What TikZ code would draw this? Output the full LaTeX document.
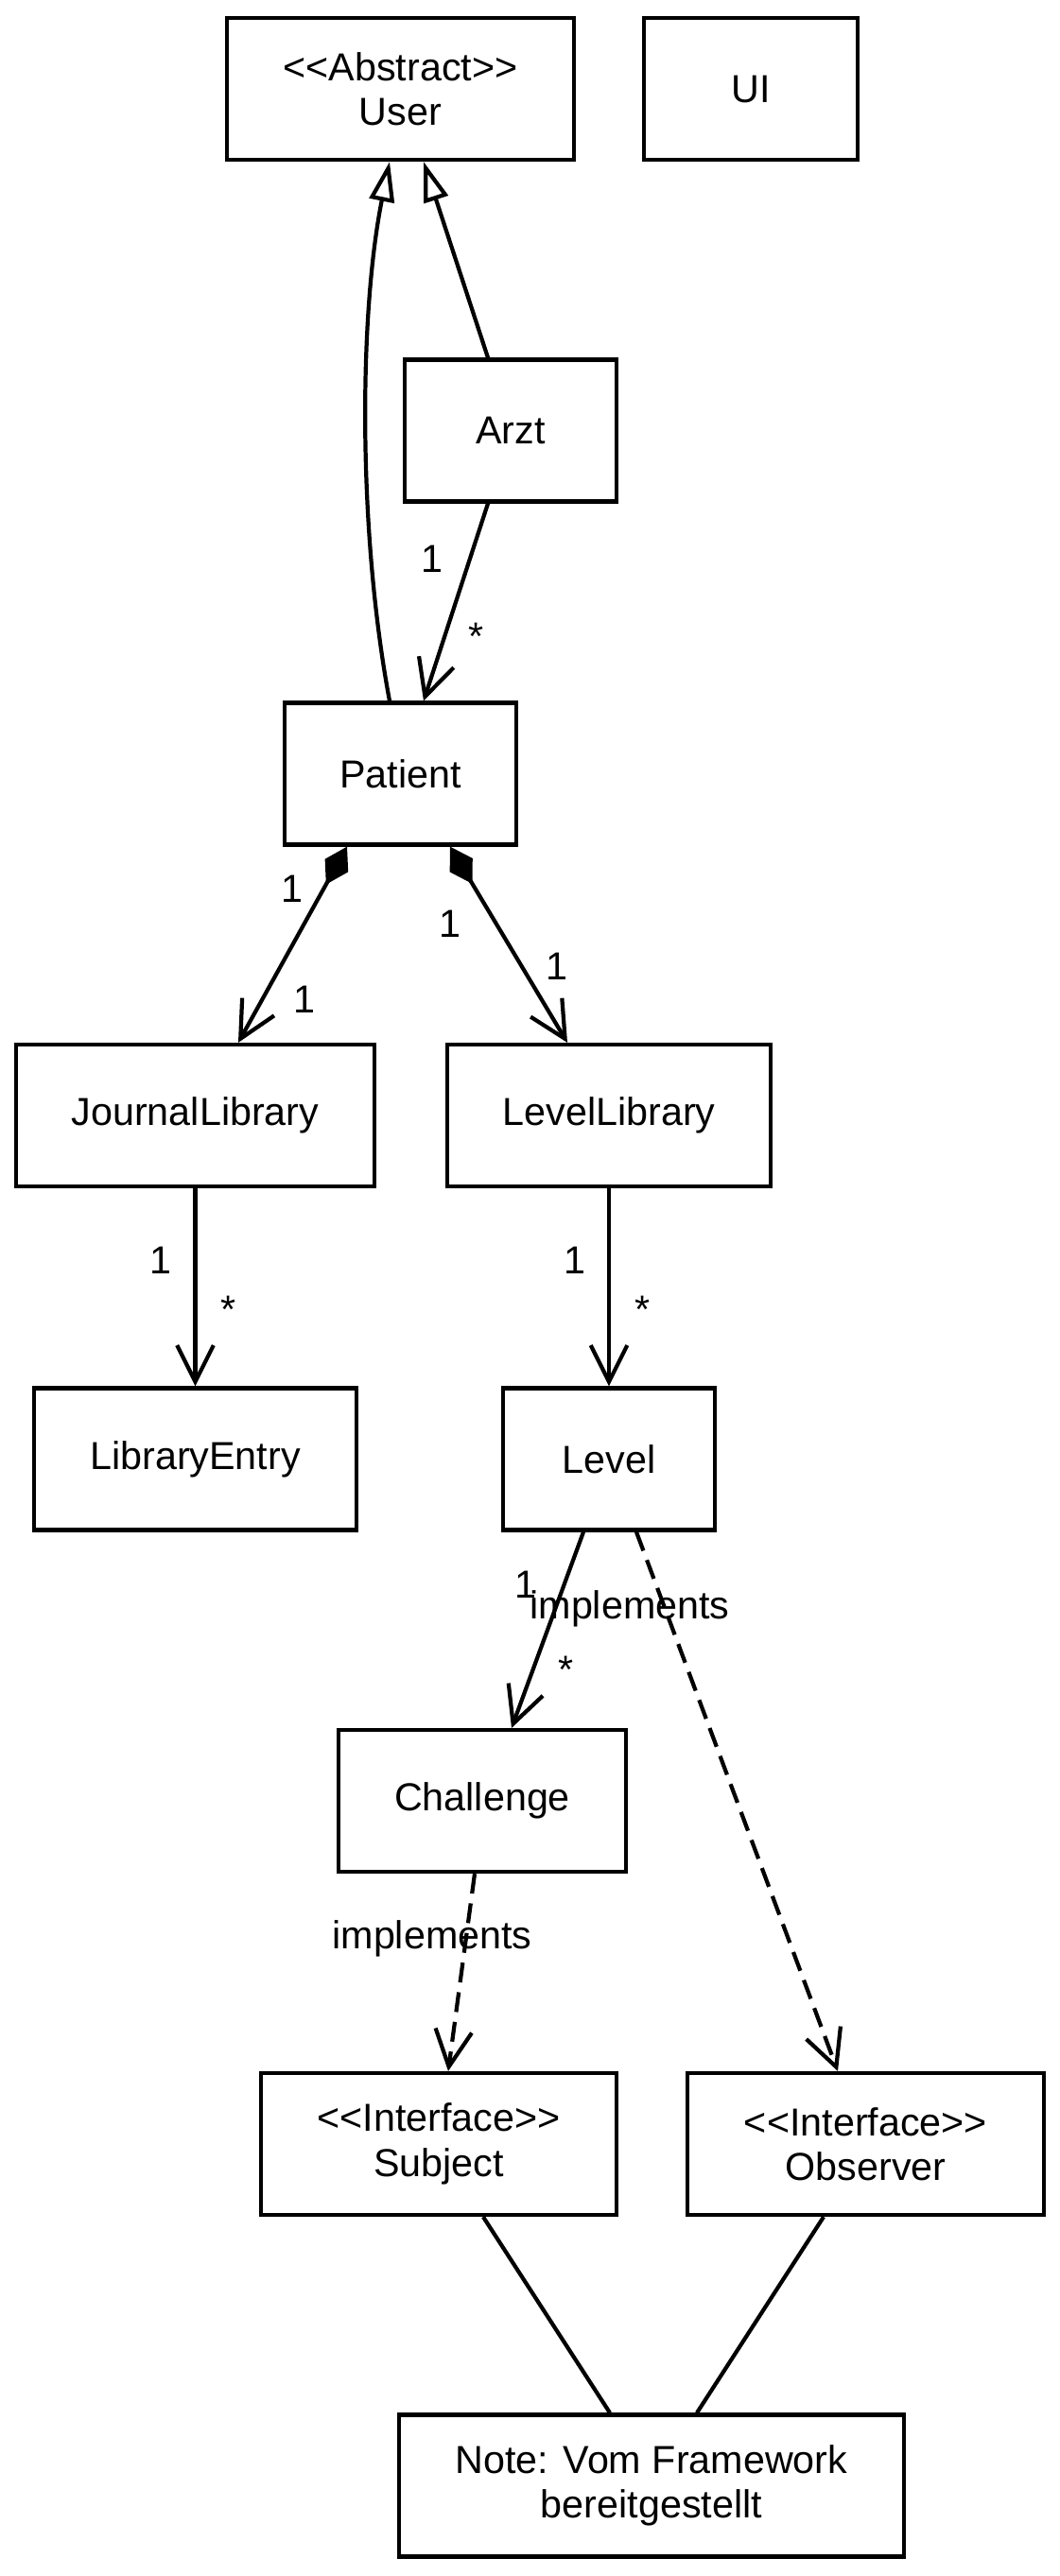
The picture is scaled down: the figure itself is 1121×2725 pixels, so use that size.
\documentclass[tikz,border=0pt]{standalone}
\usepackage{fontspec}
\setmainfont{Liberation Sans}
\usetikzlibrary{arrows.meta, calc}

\newcommand{\stereo}[1]{<\kern0pt<#1>\kern0pt>}

\tikzset{
  cls/.style={draw, line width=2.4pt, minimum height=3cm, inner sep=0pt, align=center},
  gen/.style={line width=2.4pt, -{Triangle[open, length=24pt, width=15pt]}},
  assoc/.style={line width=2.4pt, -{Straight Barb[length=22pt, width=22pt]}},
  comp/.style={line width=2.4pt, {Diamond[length=26pt, width=16pt]}-{Straight Barb[length=22pt, width=22pt]}},
  impl/.style={assoc, dash pattern=on 12pt off 6pt},
  lbl/.style={inner sep=0pt}
}

\begin{document}
\begin{tikzpicture}[x=0.02cm, y=0.02cm, font=\fontsize{23.5}{27}\selectfont]
\useasboundingbox (0,0) rectangle (1121,-2725);

% classes
\node[cls, minimum width=7.34cm] (user) at (423.5,-94) {\stereo{Abstract}\\User};
\node[cls, minimum width=4.52cm] (ui) at (794,-94) {UI};
\node[cls, minimum width=4.48cm] (arzt) at (540,-455.5) {Arzt};
\node[cls, minimum width=4.9cm] (patient) at (423.5,-818.5) {Patient};
\node[cls, minimum width=7.58cm] (journal) at (206.5,-1180) {JournalLibrary};
\node[cls, minimum width=6.84cm] (levellib) at (644,-1180) {LevelLibrary};
\node[cls, minimum width=6.82cm] (entry) at (206.5,-1543.5) {LibraryEntry};
\node[cls, minimum width=4.48cm] (level) at (644,-1543.5) {Level};
\node[cls, minimum width=6.08cm] (challenge) at (510,-1905) {Challenge};
\node[cls, minimum width=7.52cm] (subject) at (464,-2268) {\stereo{Interface}\\Subject};
\node[cls, minimum width=7.54cm] (observer) at (915.5,-2268) {\stereo{Interface}\\Observer};
\node[cls, minimum width=10.68cm] (note) at (689,-2629.5) {Note: Vom Framework\\bereitgestellt};

% inheritance
\draw[gen] ($(patient.north)+(-11.5,0)$) .. controls (378,-560) and (380,-330) .. ($(user.south)+(-11.5,0)$);
\draw[gen] ($(arzt.north)+(-24,0)$) -- ($(user.south)+(24.5,0)$);

% associations
\draw[assoc] ($(arzt.south)+(-24,0)$) -- ($(patient.north)+(24.5,0)$);
\draw[comp] ($(patient.south)+(-56.5,0)$) -- ($(journal.north)+(45.5,0)$);
\draw[comp] ($(patient.south)+(52.5,0)$) -- ($(levellib.north)+(-44,0)$);
\draw[assoc] (journal.south) -- (entry.north);
\draw[assoc] (levellib.south) -- (level.north);
\draw[assoc] ($(level.south)+(-27,0)$) -- ($(challenge.north)+(31,0)$);

% interfaces
\draw[impl] ($(level.south)+(29,0)$) -- ($(observer.north)+(-29.5,0)$);
\draw[impl] ($(challenge.south)+(-8,0)$) -- ($(subject.north)+(10,0)$);
\draw[line width=2.4pt] ($(subject.south)+(47,0)$) -- ($(note.north)+(-44,0)$);
\draw[line width=2.4pt] ($(observer.south)+(-44.5,0)$) -- ($(note.north)+(48,0)$);

% multiplicities
\node[lbl] (m1) at (457,-591) {1};
\node[lbl] (m2) at (504,-673) {*};
\node[lbl] (m3) at (309,-940) {1};
\node[lbl] (m4) at (322,-1057) {1};
\node[lbl] (m5) at (476,-977) {1};
\node[lbl] (m6) at (589,-1022) {1};
\node[lbl] (m7) at (170,-1333) {1};
\node[lbl] (m8) at (242,-1385) {*};
\node[lbl] (m9) at (608,-1333) {1};
\node[lbl] (m10) at (680,-1385) {*};
\node[lbl] (m11) at (556,-1676) {1};
\node[lbl] (m12) at (599,-1766) {*};
\node[lbl] (i1) at (666,-1702) {implements};
\node[lbl] (i2) at (457,-2051) {implements};
\end{tikzpicture}
\end{document}
